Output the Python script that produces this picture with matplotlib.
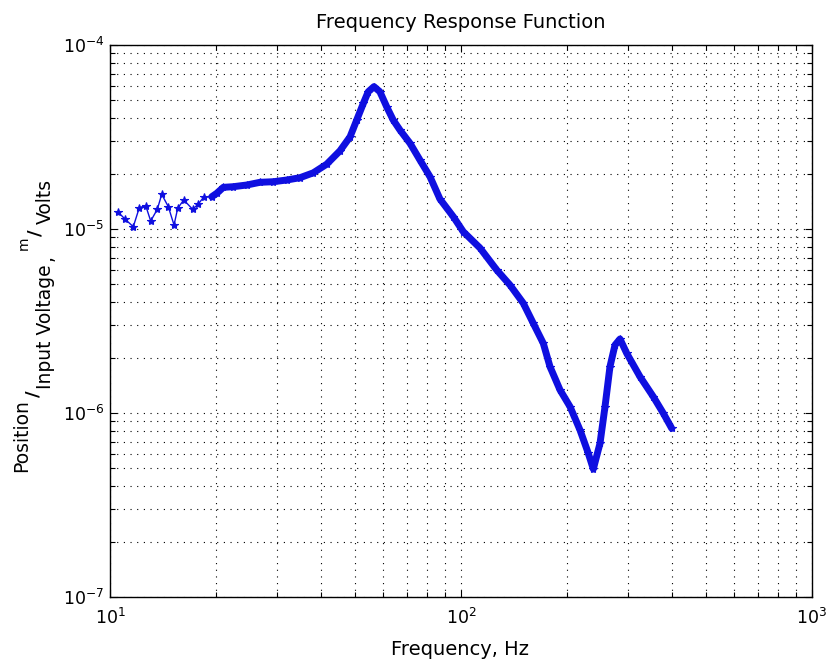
import matplotlib
matplotlib.use("Agg")
import matplotlib.pyplot as plt
from matplotlib.ticker import NullFormatter

# ---- data ----
freq_hz = [10.56, 11.03, 11.65, 12.12, 12.64, 13.06, 13.64, 14.04, 14.66, 15.22,
           15.59, 16.22, 17.2, 17.85, 18.52, 19.49, 20.14, 21.03, 22.45, 24.52,
           26.76, 29.2, 31.87, 34.77, 37.95, 41.43, 45.2, 48.3, 50.45, 52.7,
           54.4, 56.5, 58.75, 61.4, 64.1, 67.0, 71.6, 76.4, 81.6, 87.1,
           95.1, 101.5, 113.3, 126.4, 137.9, 150.5, 160.7, 171.6, 179.3, 191.5,
           204.5, 218.3, 230.5, 238.2, 248.9, 257.2, 265.7, 274.6, 283.8, 296.6,
           323.6, 353.1, 377.1, 398.4]
frf = [1.233e-5, 1.133e-5, 1.029e-5, 1.306e-5, 1.339e-5, 1.105e-5, 1.280e-5, 1.543e-5, 1.322e-5, 1.051e-5,
       1.296e-5, 1.438e-5, 1.280e-5, 1.367e-5, 1.497e-5, 1.497e-5, 1.563e-5, 1.684e-5, 1.698e-5, 1.734e-5,
       1.794e-5, 1.807e-5, 1.846e-5, 1.90e-5, 2.02e-5, 2.25e-5, 2.66e-5, 3.17e-5, 3.91e-5, 4.82e-5,
       5.57e-5, 5.94e-5, 5.57e-5, 4.62e-5, 3.91e-5, 3.45e-5, 2.92e-5, 2.37e-5, 1.924e-5, 1.455e-5,
       1.166e-5, 9.67e-6, 7.88e-6, 5.99e-6, 4.96e-6, 3.95e-6, 3.07e-6, 2.39e-6, 1.785e-6, 1.334e-6,
       1.082e-6, 8.08e-7, 6.04e-7, 4.96e-7, 6.84e-7, 1.082e-6, 1.785e-6, 2.34e-6, 2.525e-6, 2.11e-6,
       1.575e-6, 1.226e-6, 9.96e-7, 8.25e-7]
dense_start = 15  # index from which the trace is drawn densely (thick)

title_text = "Frequency Response Function"
xlabel_text = "Frequency, Hz"
xlim = (10, 1000)
ylim = (1e-7, 1e-4)

W, H = 826, 664
fig = plt.figure(figsize=(W / 100, H / 100), dpi=100)
ax = fig.add_axes([110 / W, 1 - 597 / H, (812 - 110) / W, (597 - 45) / H])

blue = (0.06, 0.06, 0.88)
ax.loglog(freq_hz, frf, color=blue, linewidth=1.0, marker='*', markersize=6,
          markeredgewidth=0.8, zorder=3)
ax.loglog(freq_hz[dense_start:], frf[dense_start:], color=blue, linewidth=5.0,
          solid_joinstyle='round', solid_capstyle='round', zorder=3)

ax.set_xlim(*xlim)
ax.set_ylim(*ylim)

ax.grid(True, which='both', color='k', linestyle=(0, (1, 5)), linewidth=0.8)
ax.tick_params(which='both', direction='in', top=True, right=True, colors='k',
               labelsize=12.5)
ax.tick_params(which='major', length=5, width=0.8)
ax.tick_params(which='minor', length=3.5, width=0.8)
ax.tick_params(axis='x', which='major', pad=8)
ax.tick_params(axis='y', which='major', pad=4)
ax.xaxis.set_minor_formatter(NullFormatter())
ax.yaxis.set_minor_formatter(NullFormatter())
for s in ax.spines.values():
    s.set_linewidth(1.0)
    s.set_color('k')

ax.set_title(title_text, fontsize=14, pad=12)
fig.text(460 / W, 1 - 655 / H, xlabel_text, fontsize=14, ha='center', va='baseline')

# y label pieces (rotated, manual fraction layout)
def ytxt(x, y, s, size=13.5, weight='normal'):
    fig.text(x / W, 1 - y / H, s, rotation=90, rotation_mode='anchor',
             ha='left', va='baseline', fontsize=size, fontweight=weight)

ytxt(27, 472, "Position")
ytxt(39, 397, "/", size=13, weight='bold')
ytxt(51, 389, "Input Voltage")
ytxt(52, 261, ",")
ytxt(28, 250, "m", size=10)
ytxt(41, 236, "/", size=13, weight='bold')
ytxt(51, 224, "Volts")

fig.savefig("out.png", dpi=100)
